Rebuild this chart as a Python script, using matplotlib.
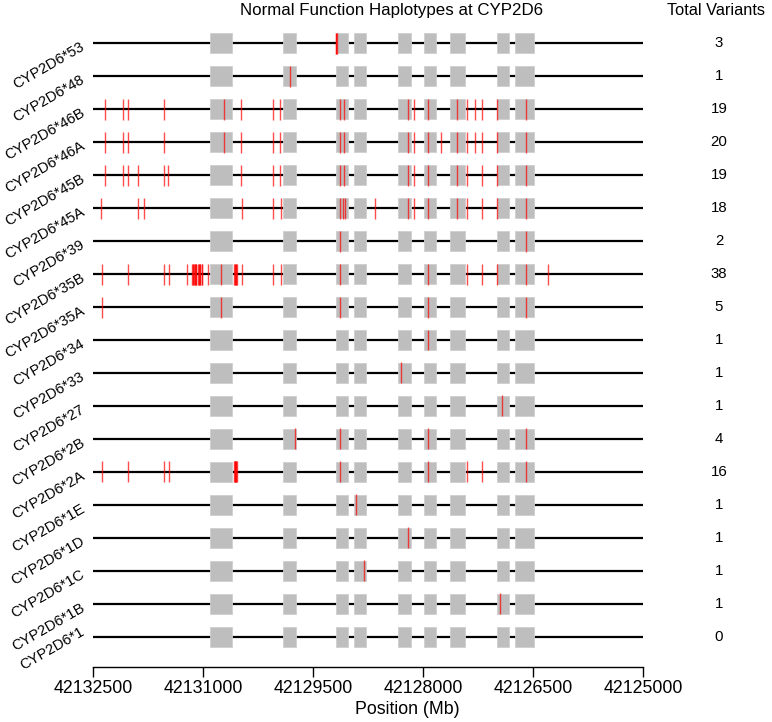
import matplotlib
matplotlib.use("Agg")
import matplotlib.pyplot as plt
from matplotlib.transforms import blended_transform_factory

plt.rcParams['font.family'] = ['Liberation Sans', 'DejaVu Sans']

haplotypes = ["CYP2D6*53", "CYP2D6*48", "CYP2D6*46B", "CYP2D6*46A", "CYP2D6*45B",
              "CYP2D6*45A", "CYP2D6*39", "CYP2D6*35B", "CYP2D6*35A", "CYP2D6*34",
              "CYP2D6*33", "CYP2D6*27", "CYP2D6*2B", "CYP2D6*2A", "CYP2D6*1E",
              "CYP2D6*1D", "CYP2D6*1C", "CYP2D6*1B", "CYP2D6*1"]

total_variants = [3, 1, 19, 20, 19, 18, 2, 38, 5, 1, 1, 1, 4, 16, 1, 1, 1, 1, 0]

gene_start = 42132500
gene_end = 42125000

exon_starts = [42130909, 42129909, 42129186, 42128945, 42128349, 42127986, 42127636, 42126991, 42126750]
exon_ends = [42130605, 42129732, 42129027, 42128775, 42128164, 42127831, 42127435, 42126835, 42126486]

v_53 = [42129190, 42129184, 42129176]
v_48 = [42129822]
v_46B = [42132336, 42132091, 42132027, 42131532, 42130714, 42130482, 42130045, 42129950,
         42129132, 42129077, 42128213, 42128127, 42127940, 42127536, 42127400, 42127295,
         42127200, 42126999, 42126604]
v_46A = [42132336, 42132091, 42132027, 42131532, 42130714, 42130482, 42130045, 42129950,
         42129132, 42129077, 42128213, 42128127, 42127940, 42127759, 42127536, 42127400,
         42127295, 42127200, 42126999, 42126604]
v_45B = [42132336, 42132091, 42132027, 42131895, 42131532, 42131481, 42130482, 42130045,
         42129950, 42129132, 42129077, 42128213, 42128127, 42127940, 42127536, 42127400,
         42127200, 42126999, 42126604]
v_45A = [42132395, 42131895, 42131809, 42130476, 42130045, 42129945, 42129132, 42129099,
         42129064, 42128659, 42128213, 42128127, 42127940, 42127536, 42127400, 42127200,
         42126999, 42126604]
v_39 = [42129132, 42126604]
v_35B = [42132377, 42132027, 42131532, 42131472, 42131226,
         42131151, 42131145, 42131136, 42131127, 42131120, 42131113, 42131106, 42131100,
         42131068, 42131061, 42131056, 42131049, 42131042, 42131018, 42131011,
         42130932, 42130763,
         42130577, 42130571, 42130564, 42130557, 42130550, 42130545,
         42130476, 42130045, 42129945, 42129132,
         42127940, 42127400, 42127200, 42126999, 42126604, 42126304]
v_35A = [42132377, 42130759, 42129132, 42127940, 42126604]
v_34 = [42127940]
v_33 = [42128308]
v_27 = [42126931]
v_2B = [42129754, 42129132, 42127940, 42126604]
v_2A = [42132377, 42132027, 42131532, 42131472,
        42130577, 42130572, 42130566, 42130561, 42130555, 42130550, 42130545,
        42129132, 42127940, 42127400, 42127200, 42126604]
v_1E = [42128920]
v_1D = [42128212]
v_1C = [42128809]
v_1B = [42126951]
v_1 = []

variants = [v_53, v_48, v_46B, v_46A, v_45B, v_45A, v_39, v_35B, v_35A, v_34,
            v_33, v_27, v_2B, v_2A, v_1E, v_1D, v_1C, v_1B, v_1]

xticks = [42132500, 42131000, 42129500, 42128000, 42126500, 42125000]

W, H = 772, 722
fig = plt.figure(figsize=(W / 100, H / 100), dpi=100)
ax_left, ax_right = 93.3, 643.3
ax_top, ax_bot = 20.0, 666.7
ax = fig.add_axes([ax_left / W, 1 - ax_bot / H, (ax_right - ax_left) / W, (ax_bot - ax_top) / H])

n = len(haplotypes)
row_px = 32.967
ax.set_xlim(gene_start, gene_end)
ax.set_ylim(0 - (ax_bot - 636.7) / row_px, (n - 1) + (43.3 - ax_top) / row_px)

box_h = 20.0 / row_px
tick_h = 10.5 / row_px

for i, (name, vs) in enumerate(zip(haplotypes, variants)):
    y = (n - 1) - i
    ax.hlines(y, gene_start, gene_end, color='black', lw=1.6, zorder=1)
    xr = [(min(s, e), abs(s - e)) for s, e in zip(exon_starts, exon_ends)]
    ax.broken_barh(xr, (y - box_h / 2, box_h), facecolors='#bebebe',
                   edgecolor='#cfcfcf', linewidth=0.6, zorder=2)
    if vs:
        ax.vlines(vs, y - tick_h, y + tick_h, color='red', alpha=0.7, lw=1.0, zorder=3)

for s in ['top', 'right', 'left']:
    ax.spines[s].set_visible(False)
ax.spines['bottom'].set_linewidth(1.0)
ax.set_yticks([])
ax.set_xticks(xticks)
ax.set_xticklabels([str(t) for t in xticks], fontsize=12.8)
ax.tick_params(axis='x', length=7, width=1.0, pad=2.5)

trans = blended_transform_factory(fig.transFigure, ax.transData)
for i, (name, tv) in enumerate(zip(haplotypes, total_variants)):
    y = (n - 1) - i
    dy_px = -3.5 if i < n - 1 else -12.0
    ax.text(80 / W, y - dy_px / row_px, name, transform=trans, rotation=30,
            rotation_mode='anchor', ha='right', va='top', fontsize=10.6)
    ax.text(719 / W, y, str(tv), transform=trans, ha='center', va='center', fontsize=10.8)

fig.text(392 / W, 1 - 10.5 / H, "Normal Function Haplotypes at CYP2D6",
         ha='center', va='center', fontsize=12.2)
fig.text(716 / W, 1 - 10.5 / H, "Total Variants", ha='center', va='center', fontsize=11.8)
fig.text(407 / W, 1 - 709 / H, "Position (Mb)", ha='center', va='center', fontsize=12.8)

fig.savefig("out.png", dpi=100)
